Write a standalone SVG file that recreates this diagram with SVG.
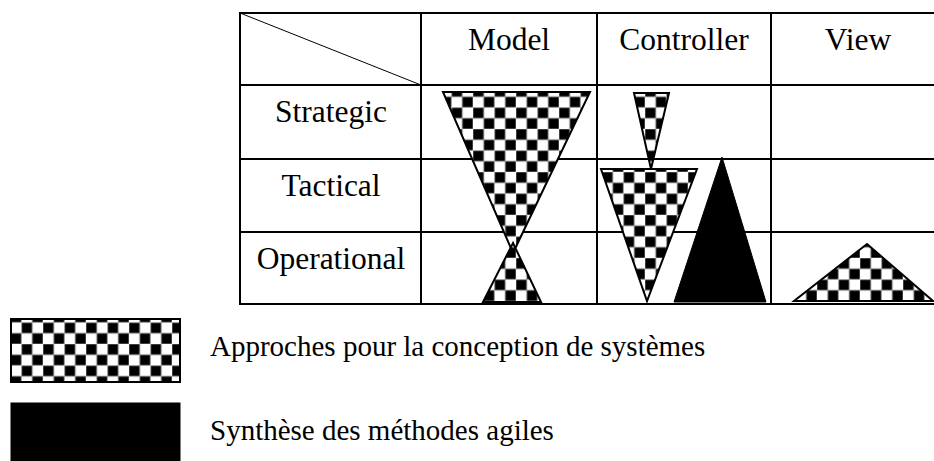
<svg xmlns="http://www.w3.org/2000/svg" width="934" height="461" viewBox="0 0 934 461">
  <style>
    .grid { stroke: #000; stroke-width: 2; fill: none; }
    .diag { stroke: #000; stroke-width: 1; }
    .lbl { font-family: "Liberation Serif", "Times New Roman", serif; font-size: 31.5px; fill: #000; }
    .leg { font-family: "Liberation Serif", "Times New Roman", serif; font-size: 29px; fill: #000; }
    .chk { fill: url(#checker); stroke: #000; stroke-width: 2; stroke-linejoin: miter; }
    .solid { fill: #000; stroke: #000; stroke-width: 1; }
  </style>
  <defs>
    <pattern id="checker" patternUnits="userSpaceOnUse" width="21.5" height="21.5">
      <rect x="0" y="0" width="21.5" height="21.5" fill="#fff"/>
      <rect x="0" y="0" width="10.75" height="10.75" fill="#000" stroke="#9a9a9a" stroke-width="0.8"/>
      <rect x="10.75" y="10.75" width="10.75" height="10.75" fill="#000" stroke="#9a9a9a" stroke-width="0.8"/>
    </pattern>
  </defs>
  <rect width="934" height="461" fill="#fff"/>

  <g id="table">
    <rect class="grid" x="240" y="13" width="710" height="291"/>
    <line class="grid" x1="240" y1="85" x2="950" y2="85"/>
    <line class="grid" x1="240" y1="159" x2="950" y2="159"/>
    <line class="grid" x1="240" y1="232" x2="950" y2="232"/>
    <line class="grid" x1="421" y1="13" x2="421" y2="304"/>
    <line class="grid" x1="597" y1="13" x2="597" y2="304"/>
    <line class="grid" x1="771" y1="13" x2="771" y2="304"/>
    <line class="diag" x1="240" y1="13" x2="421" y2="85"/>
  </g>

  <g id="headers">
    <text class="lbl" x="509" y="50" text-anchor="middle">Model</text>
    <text class="lbl" x="684" y="50" text-anchor="middle">Controller</text>
    <text class="lbl" x="858" y="50" text-anchor="middle">View</text>
    <text class="lbl" x="331" y="122" text-anchor="middle">Strategic</text>
    <text class="lbl" x="331" y="196" text-anchor="middle">Tactical</text>
    <text class="lbl" x="331" y="269" text-anchor="middle">Operational</text>
  </g>

  <g id="model-shapes">
    <polygon class="chk" points="443,92 590,92 513,253"/>
    <polygon class="chk" points="513,243 541,302 483,302"/>
  </g>

  <g id="controller-shapes">
    <polygon class="chk" points="634,93 669,93 651,169"/>
    <polygon class="chk" points="601,169 697,169 647,301"/>
    <polygon class="solid" points="722,157 766,302 674,302"/>
  </g>

  <g id="view-shapes">
    <polygon class="chk" points="867,244 933,301 794,301"/>
  </g>

  <g id="legend-approches">
    <rect class="chk" x="11" y="319" width="169" height="63"/>
    <text class="leg" x="210" y="356">Approches pour la conception de systèmes</text>
  </g>

  <g id="legend-agiles">
    <rect class="solid" x="11" y="403" width="169" height="60"/>
    <text class="leg" x="210" y="440">Synthèse des méthodes agiles</text>
  </g>
</svg>
